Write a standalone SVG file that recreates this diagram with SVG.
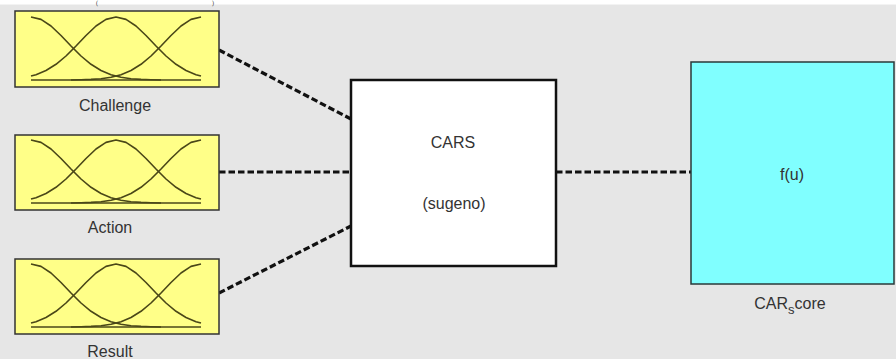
<svg xmlns="http://www.w3.org/2000/svg" width="896" height="359" viewBox="0 0 896 359">
<style>
.lbl{font-family:"Liberation Sans",Arial,sans-serif;font-size:16px;fill:#333;text-anchor:middle}
.inbox{fill:#ffff88;stroke:#333;stroke-width:1.5}
.mf{fill:none;stroke:#4a4718;stroke-width:1.6;stroke-linejoin:round}
.conn{fill:none;stroke:#111;stroke-width:3.2;stroke-dasharray:6.5 3}
.par{font-family:"Liberation Serif",serif;font-size:6px;fill:#333}
</style>
<defs>
<g id="mfs">
<polyline class="mf" points="0,-63 10,-60.6 20,-54 30,-44.5 40,-34 50,-24 60,-15.7 70,-9.5 80,-5.3 90,-2.8 100,-1.3 110,-0.6 120,-0.2 130,0"/>
<polyline class="mf" points="0,-3.9 5,-5.3 15,-9.5 25,-15.7 35,-24 45,-34 55,-44.5 65,-54 75,-60.6 85,-63 95,-60.6 105,-54 115,-44.5 125,-34 135,-24 145,-15.7 155,-9.5 165,-5.3 170,-3.9"/>
<polyline class="mf" points="170,-63 160,-60.6 150,-54 140,-44.5 130,-34 120,-24 110,-15.7 100,-9.5 90,-5.3 80,-2.8 70,-1.3 60,-0.6 50,-0.2 40,0"/>
<line class="mf" x1="0" y1="0" x2="170" y2="0"/>
</g>
</defs>
<rect x="0" y="0" width="896" height="359" fill="#e6e6e6"/>
<rect x="0" y="0" width="896" height="4.5" fill="#ffffff"/>
<text class="par" x="96" y="4.5">(</text>
<text class="par" x="212" y="4.5">)</text>
<g id="connectors">
<line class="conn" x1="219" y1="50" x2="351" y2="119"/>
<line class="conn" x1="219" y1="172" x2="351" y2="172"/>
<line class="conn" x1="219" y1="293" x2="351" y2="226"/>
<line class="conn" x1="556" y1="172" x2="691" y2="172"/>
</g>
<g id="challenge">
<rect class="inbox" x="15" y="11" width="204" height="76"/>
<use href="#mfs" transform="translate(31,80)"/>
<text class="lbl" x="115" y="111">Challenge</text>
</g>
<g id="action">
<rect class="inbox" x="15" y="135" width="204" height="75"/>
<use href="#mfs" transform="translate(31,203)"/>
<text class="lbl" x="110" y="233">Action</text>
</g>
<g id="result">
<rect class="inbox" x="15" y="259" width="204" height="75"/>
<use href="#mfs" transform="translate(31,327)"/>
<text class="lbl" x="110" y="357">Result</text>
</g>
<g id="cars">
<rect x="351" y="80" width="205" height="186" fill="#ffffff" stroke="#111" stroke-width="2.5"/>
<text class="lbl" x="453" y="148">CARS</text>
<text class="lbl" x="454" y="209">(sugeno)</text>
</g>
<g id="carscore">
<rect x="691" y="62" width="203" height="222" fill="#80ffff" stroke="#2a3a3a" stroke-width="1.5"/>
<text class="lbl" x="792" y="180">f(u)</text>
<text class="lbl" x="790" y="309">CAR<tspan font-size="13" dy="5">s</tspan><tspan dy="-5">core</tspan></text>
</g>
</svg>
